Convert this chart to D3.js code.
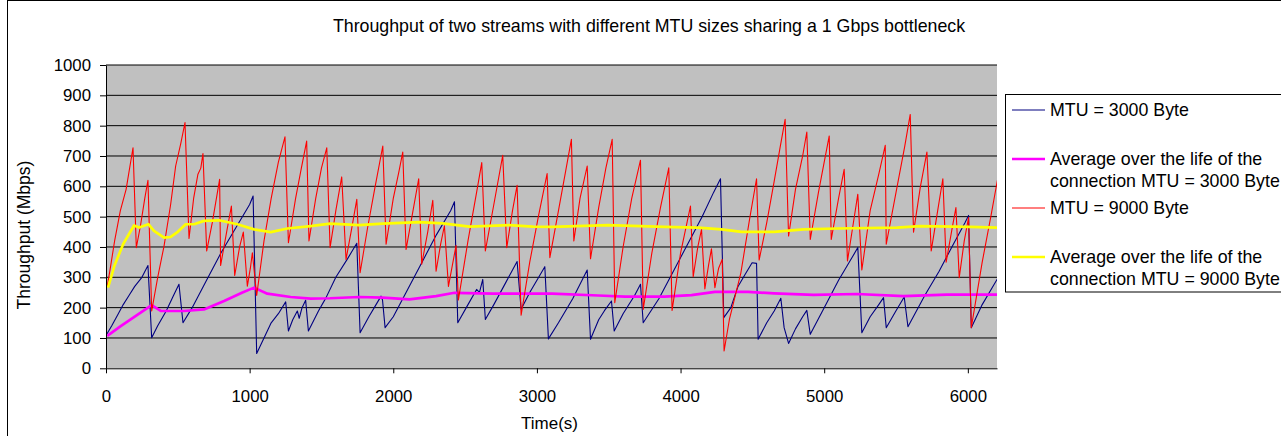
<!DOCTYPE html>
<html>
<head>
<meta charset="utf-8">
<script src="https://cdn.jsdelivr.net/npm/d3@7"></script>
<style>
  html, body { margin: 0; padding: 0; background: #fff; }
  svg { display: block; font-family: "Liberation Sans", Arial, sans-serif; }
</style>
</head>
<body>
<svg id="chart" width="1281" height="436"></svg>
<script>
// Throughput samples: [time (s), throughput (Mbps)]
const mtu3000 = [
  [5,112],[40,140],[80,175],[120,210],[160,240],[200,270],[250,300],[292,339],[318,101],
  [360,140],[420,190],[470,240],[508,277],[536,150],[600,200],[700,290],[800,380],[900,460],
  [1000,540],[1024,568],[1049,49],[1100,100],[1150,150],[1200,180],[1251,219],[1270,123],
  [1300,160],[1332,189],[1345,165],[1365,200],[1390,224],[1409,123],[1480,190],[1532,233],
  [1600,300],[1680,360],[1746,412],[1769,117],[1830,170],[1880,210],[1915,238],[1925,225],
  [1943,134],[2000,170],[2100,260],[2200,350],[2300,440],[2400,520],[2426,549],[2449,150],
  [2520,210],[2580,260],[2600,250],[2623,293],[2641,161],[2700,210],[2780,280],[2862,352],
  [2890,195],[2950,250],[3000,290],[3055,335],[3080,97],[3150,150],[3250,230],[3350,324],
  [3373,96],[3430,160],[3470,190],[3519,222],[3538,123],[3600,180],[3680,240],[3721,277],
  [3740,150],[3850,230],[3950,320],[4050,410],[4150,500],[4230,580],[4278,625],[4301,167],
  [4350,200],[4400,270],[4450,310],[4498,348],[4529,346],[4540,96],[4600,150],[4652,189],
  [4698,231],[4721,134],[4752,82],[4800,130],[4850,170],[4879,191],[4903,112],[5000,200],
  [5100,290],[5200,370],[5234,398],[5262,117],[5320,170],[5380,210],[5413,233],[5432,134],
  [5500,190],[5557,235],[5583,137],[5700,240],[5800,320],[5900,410],[5980,480],[6005,504],
  [6024,134],[6100,210],[6207,296]
];

const mtu9000 = [
  [9,271],[30,330],[60,420],[100,520],[140,590],[175,690],[188,727],[211,398],[240,470],
  [270,560],[292,620],[318,189],[360,300],[404,403],[450,540],[485,667],[520,740],[550,810],
  [578,428],[610,560],[640,640],[660,660],[675,708],[701,387],[740,480],[791,623],[798,339],
  [840,450],[873,535],[896,306],[930,400],[956,449],[984,271],[1005,330],[1019,381],[1049,240],
  [1100,420],[1150,560],[1200,680],[1246,763],[1270,414],[1320,560],[1360,660],[1397,749],
  [1413,420],[1460,560],[1500,660],[1537,727],[1560,398],[1600,520],[1641,631],[1671,359],
  [1710,460],[1746,557],[1769,315],[1820,460],[1870,590],[1927,733],[1950,409],[2000,560],
  [2040,650],[2066,713],[2089,392],[2130,500],[2177,625],[2198,343],[2240,450],[2275,554],
  [2298,320],[2330,410],[2356,470],[2384,270],[2437,405],[2453,225],[2520,420],[2580,580],
  [2616,678],[2641,387],[2700,540],[2762,702],[2790,398],[2830,520],[2862,603],[2890,175],
  [2950,350],[3010,500],[3071,642],[3090,365],[3150,520],[3200,650],[3240,755],[3257,420],
  [3300,560],[3350,667],[3373,361],[3430,530],[3480,660],[3524,755],[3542,216],[3600,400],
  [3660,560],[3721,686],[3740,194],[3800,380],[3860,530],[3918,661],[3941,191],[4000,380],
  [4069,535],[4088,302],[4120,400],[4146,458],[4169,262],[4195,340],[4215,394],[4239,266],
  [4265,330],[4290,359],[4303,57],[4340,161],[4420,315],[4480,490],[4529,625],[4547,357],
  [4600,480],[4652,617],[4690,720],[4728,821],[4752,436],[4800,590],[4850,700],[4879,779],
  [4903,425],[4960,580],[5000,680],[5035,766],[5049,425],[5100,560],[5139,656],[5162,354],
  [5200,470],[5234,574],[5262,324],[5320,520],[5380,640],[5425,735],[5432,409],[5500,580],
  [5560,730],[5599,837],[5622,449],[5670,600],[5715,713],[5745,387],[5790,520],[5826,625],
  [5849,350],[5890,460],[5917,530],[5940,299],[5975,420],[6005,497],[6024,134],[6100,350],
  [6160,500],[6207,623]
];

// Running averages over the life of each connection
const avg3000 = [
  [9,107],[100,138],[200,170],[318,208],[381,189],[543,189],[682,194],[822,222],[950,250],
  [1031,266],[1123,246],[1286,235],[1425,230],[1560,231],[1764,235],[1927,233],[2112,227],
  [2298,238],[2426,249],[2693,246],[3106,246],[3426,240],[3612,236],[3890,236],[4076,241],
  [4239,252],[4471,252],[4652,247],[4926,242],[5227,245],[5552,238],[5854,243],[6207,243]
];

const avg9000 = [
  [14,266],[60,340],[120,410],[195,471],[230,464],[295,475],[334,453],[404,431],[450,433],
  [500,450],[555,475],[613,475],[682,486],[787,488],[914,475],[1031,458],[1147,449],[1263,461],
  [1425,469],[1560,477],[1764,472],[1927,477],[2182,482],[2344,478],[2530,467],[2808,472],
  [2971,467],[3106,466],[3496,472],[3890,466],[4122,464],[4285,458],[4424,450],[4652,450],
  [4856,458],[5088,461],[5506,464],[5668,469],[6017,466],[6207,464]
];

const yTicks = [0,100,200,300,400,500,600,700,800,900,1000];
const xTicks = [0,1000,2000,3000,4000,5000,6000];

const seriesNames = [
  ["MTU = 3000 Byte"],
  ["Average over the life of the", "connection MTU = 3000 Byte"],
  ["MTU = 9000 Byte"],
  ["Average over the life of the", "connection MTU = 9000 Byte"]
];

const titleText = "Throughput of two streams with different MTU sizes sharing a 1 Gbps bottleneck";
const xTitle = "Time(s)";
const yTitle = "Throughput (Mbps)";

// ---- drawing ----
const svg = d3.select("#chart");
const plot = { left: 106, right: 997, top: 65, bottom: 368.3 };

const x = d3.scaleLinear().domain([0, 6203]).range([plot.left, plot.right]);
const y = d3.scaleLinear().domain([0, 1000]).range([plot.bottom, plot.top]);

// outer chart frame
svg.append("rect")
  .attr("x", 7.5).attr("y", 0.5)
  .attr("width", 1400).attr("height", 600)
  .attr("fill", "#fff").attr("stroke", "#000").attr("stroke-width", 1);

// title
svg.append("text")
  .attr("x", 649).attr("y", 32)
  .attr("text-anchor", "middle")
  .attr("font-size", 17.8)
  .attr("fill", "#000")
  .text(titleText);

// plot background
svg.append("rect")
  .attr("x", plot.left).attr("y", plot.top)
  .attr("width", plot.right - plot.left).attr("height", plot.bottom - plot.top)
  .attr("fill", "#c0c0c0");

// horizontal gridlines
svg.append("g")
  .selectAll("line")
  .data(yTicks.filter(d => d > 0))
  .join("line")
  .attr("x1", plot.left).attr("x2", plot.right)
  .attr("y1", d => y(d)).attr("y2", d => y(d))
  .attr("stroke", "#000").attr("stroke-width", 1);

// clip for the series
svg.append("defs").append("clipPath").attr("id", "plotClip")
  .append("rect")
  .attr("x", plot.left).attr("y", plot.top - 2)
  .attr("width", plot.right - plot.left).attr("height", plot.bottom - plot.top + 2);

const line = d3.line().x(d => x(d[0])).y(d => y(d[1]));

const series = [
  { data: mtu3000, color: "#000080", width: 1.1 },
  { data: avg3000, color: "#ff00ff", width: 2.7 },
  { data: mtu9000, color: "#ff0000", width: 1.1 },
  { data: avg9000, color: "#ffff00", width: 2.7 }
];

const gSeries = svg.append("g").attr("clip-path", "url(#plotClip)");
series.forEach(s => {
  gSeries.append("path")
    .datum(s.data)
    .attr("d", line)
    .attr("fill", "none")
    .attr("stroke", s.color)
    .attr("stroke-width", s.width)
    .attr("stroke-linejoin", "round");
});

const plain = d3.format("d");

// y axis
const yAxis = svg.append("g")
  .attr("transform", `translate(${plot.left},0)`)
  .call(d3.axisLeft(y).tickValues(yTicks).tickFormat(plain)
    .tickSize(6).tickSizeOuter(0).tickPadding(9));
yAxis.selectAll("text")
  .attr("font-size", 16.8).attr("font-family", "Liberation Sans, Arial, sans-serif")
  .attr("fill", "#000");
yAxis.selectAll("line").attr("stroke", "#000");
yAxis.select(".domain").attr("stroke", "#000");

// x axis
const xAxis = svg.append("g")
  .attr("transform", `translate(0,${plot.bottom})`)
  .call(d3.axisBottom(x).tickValues(xTicks).tickFormat(plain)
    .tickSize(5).tickSizeOuter(0).tickPadding(17));
xAxis.selectAll("text")
  .attr("font-size", 16.8).attr("font-family", "Liberation Sans, Arial, sans-serif")
  .attr("fill", "#000");
xAxis.selectAll("line").attr("stroke", "#000");
xAxis.select(".domain").attr("stroke", "#000");

// axis titles
svg.append("text")
  .attr("x", 549.5).attr("y", 429)
  .attr("text-anchor", "middle").attr("font-size", 17)
  .text(xTitle);

svg.append("text")
  .attr("transform", "translate(30,235) rotate(-90)")
  .attr("text-anchor", "middle").attr("font-size", 17.5)
  .text(yTitle);

// legend
const legend = svg.append("g");
legend.append("rect")
  .attr("x", 1005.5).attr("y", 94.5)
  .attr("width", 320).attr("height", 197.5)
  .attr("fill", "#fff").attr("stroke", "#000").attr("stroke-width", 1);

const legendY = [110, 159, 208, 257];
series.forEach((s, i) => {
  legend.append("line")
    .attr("x1", 1012).attr("x2", 1045)
    .attr("y1", legendY[i]).attr("y2", legendY[i])
    .attr("stroke", s.color).attr("stroke-width", s.width);
  const t = legend.append("text")
    .attr("x", 1050).attr("y", legendY[i] + 6)
    .attr("font-size", 17.8).attr("fill", "#000");
  seriesNames[i].forEach((ln, j) => {
    t.append("tspan").attr("x", 1050).attr("dy", j === 0 ? 0 : 21.7).text(ln);
  });
});
</script>
</body>
</html>
